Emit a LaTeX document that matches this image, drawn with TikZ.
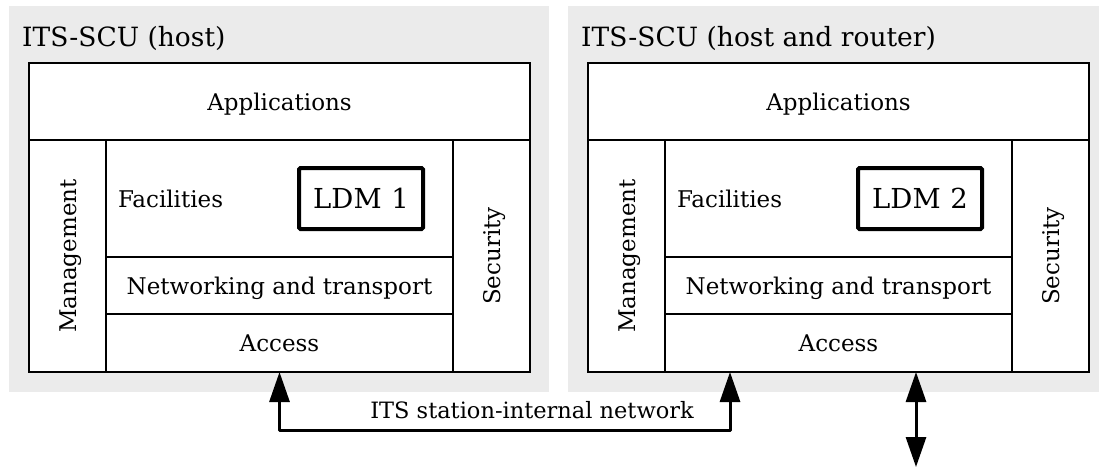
\documentclass[tikz,border=0pt]{standalone}
\usepackage{fontspec}
\setmainfont{DejaVu Serif}
\usetikzlibrary{arrows.meta,calc}
\definecolor{panelgrey}{HTML}{EBEBEB}

% one protocol stack: #1 = horizontal shift, #2 = name suffix, #3 = title, #4 = LDM number
\newcommand\itsstack[4]{%
  \begin{scope}[xshift=#1]
    \fill[panelgrey] (9,6) rectangle (549,392);
    \node[title] (title#2) at (22,46) {#3};
    \node[cell, minimum width=501pt, minimum height=77pt]  (apps#2) at (29,63)  {Applications};
    \node[cell, minimum width=77pt,  minimum height=232pt] (mgmt#2) at (29,140) {};
    \node[cell, minimum width=347pt, minimum height=117pt] (fac#2)  at (106,140) {};
    \node[cell, minimum width=347pt, minimum height=57pt]  (net#2)  at (106,257) {Networking and transport};
    \node[cell, minimum width=347pt, minimum height=58pt]  (acc#2)  at (106,314) {Access};
    \node[cell, minimum width=77pt,  minimum height=232pt] (sec#2)  at (453,140) {};
    \node[body, rotate=90] (mgmtlabel#2) at (mgmt#2.center) {Management};
    \node[body, rotate=90] (seclabel#2)  at (sec#2.center)  {Security};
    \node[body, anchor=west] (faclabel#2) at (118,198.5) {Facilities};
    \node[ldm] (ldm#2) at (361,198.5) {LDM\hspace{0.35em}#4};
  \end{scope}}

\begin{document}
\begin{tikzpicture}[x=1pt,y=-1pt,
  body/.style={font=\fontsize{23}{28}\selectfont, text height=17pt, text depth=0pt,
    inner sep=0pt, outer sep=0pt},
  cell/.style={body, draw, line width=2pt, fill=white, anchor=north west},
  title/.style={font=\fontsize{26.5}{31}\selectfont, anchor=base west, inner sep=0pt},
  ldm/.style={draw, line width=4pt, rounded corners=1.5pt, fill=white,
    minimum width=124pt, minimum height=61pt, inner sep=0pt,
    font=\fontsize{27.5}{32}\selectfont, text height=20pt, text depth=0pt},
  link/.style={line width=3pt, line join=round,
    {Triangle[length=30pt,width=20pt]}-{Triangle[length=30pt,width=20pt]}},
  netlabel/.style={font=\fontsize{22.5}{26}\selectfont, anchor=base, inner sep=0pt}
]
\useasboundingbox (0,0) rectangle (1099,467);

\itsstack{0pt}{1}{ITS-SCU (host)}{1}
\itsstack{559pt}{2}{ITS-SCU (host and router)}{2}

% station-internal network between the two access layers
\coordinate (busrow) at (0,430);
\coordinate (t2) at ($(acc2.south west)+(65,0)$);
\draw[link] (acc1.south) -- (acc1.south |- busrow) -| (t2);
\node[netlabel] (netlbl) at (532,418) {ITS station-internal network};

% external link of the router
\coordinate (t3) at ($(acc2.south west)+(251,0)$);
\coordinate (ext) at (t3 |- 0,467);
\draw[link] (t3) -- (ext);
\end{tikzpicture}
\end{document}
